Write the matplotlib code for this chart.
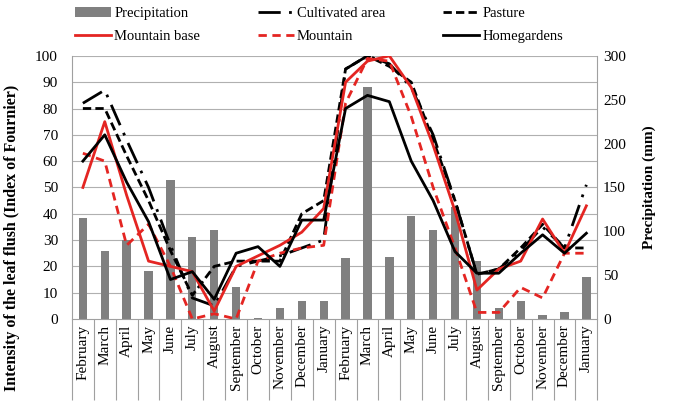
import numpy as np
import matplotlib.pyplot as plt
from matplotlib.ticker import MultipleLocator, FixedLocator

months = ['February', 'March', 'April', 'May', 'June', 'July', 'August',
          'September', 'October', 'November', 'December', 'January'] * 2

# precipitation (mm), right axis
precipitation = [115, 77, 90, 55, 158, 94, 102, 37, 1.5, 13, 21, 20,
                 69, 265, 71, 118, 102, 128, 66, 13, 20, 4, 8, 48]

# index of Fournier, left axis
cultivated = [82, 87, 68, 50, 28, 8, 5, 20, 22, 24, 27, 30,
              95, 100, 97, 88, 70, 45, 17, 19, 26, 35, 27, 51]
pasture = [80, 80, 62, 45, 26, 9, 20, 22, 22, 22, 40, 45,
           95, 100, 96, 90, 68, 45, 17, 19, 27, 36, 27, 27]
mountain_base = [50, 75, 47, 22, 20, 18, 3, 20, 24, 28, 33, 42,
                 90, 98, 100, 88, 66, 41, 11, 19, 22, 38, 25, 43]
mountain = [63, 60, 28, 36, 20, 0, 2, 0, 22, 25, 27, 28,
            82, 99, 98, 77, 50, 27, 2.5, 2.5, 12, 8, 25, 25]
homegardens = [60, 70, 52, 37, 15, 18, 7.5, 25, 27.5, 20, 37.6, 37.6,
               80, 85, 82.6, 60, 45, 25.6, 17.4, 17.4, 25, 32, 25, 32.6]

serif = ['Liberation Serif', 'DejaVu Serif']
plt.rcParams['font.family'] = serif

fig = plt.figure(figsize=(6.85, 4.17), dpi=100)
ax = fig.add_axes([0.105, 0.235, 0.767, 0.631])
ax2 = ax.twinx()

x = np.arange(len(months))

# bars on secondary axis, drawn behind lines
bars = ax2.bar(x, precipitation, width=0.38, color='#808080', zorder=1,
               label='Precipitation')
ax2.set_ylim(0, 300)
ax2.yaxis.set_major_locator(MultipleLocator(50))

ax.set_zorder(ax2.get_zorder() + 1)
ax.patch.set_visible(False)

lw = 2.0
l_cult, = ax.plot(x, cultivated, color='black', lw=lw,
                  dashes=(8, 3, 1, 3), label='Cultivated area')
l_past, = ax.plot(x, pasture, color='black', lw=lw,
                  dashes=(3, 1.5), label='Pasture')
l_mb, = ax.plot(x, mountain_base, color='#e42522', lw=lw,
                label='Mountain base')
l_mt, = ax.plot(x, mountain, color='#e42522', lw=lw,
                dashes=(3, 2), label='Mountain')
l_hg, = ax.plot(x, homegardens, color='black', lw=lw,
                label='Homegardens')

ax.set_ylim(0, 100)
ax.set_xlim(-0.5, len(months) - 0.5)
ax.yaxis.set_major_locator(MultipleLocator(10))

# gridlines drawn on the bar axes so they sit under the bars
for v in range(10, 101, 10):
    ax2.axhline(v * 3, color='#b0b0b0', lw=0.8, zorder=0)

ax.set_xticks(x)
ax.set_xticklabels(months, rotation=90, fontsize=11)
ax.xaxis.set_minor_locator(FixedLocator(np.arange(-0.5, len(months), 1)))
ax.tick_params(axis='x', which='major', length=0, pad=4)
ax.tick_params(axis='x', which='minor', length=58, color='#a0a0a0', width=0.8)
ax.tick_params(axis='y', length=0, labelsize=11, pad=10)
ax2.tick_params(axis='y', length=0, labelsize=11, pad=4)

for a in (ax, ax2):
    for s in a.spines.values():
        s.set_visible(False)
for side in ('bottom', 'left', 'right'):
    ax2.spines[side].set_visible(True)
    ax2.spines[side].set_color('#a0a0a0')

fig.text(0.018, 0.43, 'Intensity of the leaf flush (Index of Fournier)',
         rotation=90, va='center', ha='center', fontsize=11.5, fontweight='bold')
ax2.set_ylabel('Precipitation (mm)', fontsize=11, fontweight='bold',
               labelpad=12)

handles = [bars, l_mb, l_cult, l_mt, l_past, l_hg]
fig.legend(handles, [h.get_label() for h in handles], ncol=3,
           loc='upper left', bbox_to_anchor=(0.09, 1.015), frameon=False,
           fontsize=10.5, handlelength=2.5, handletextpad=0.2,
           columnspacing=3.95, labelspacing=0.7)

fig.savefig('out.png', dpi=100)
